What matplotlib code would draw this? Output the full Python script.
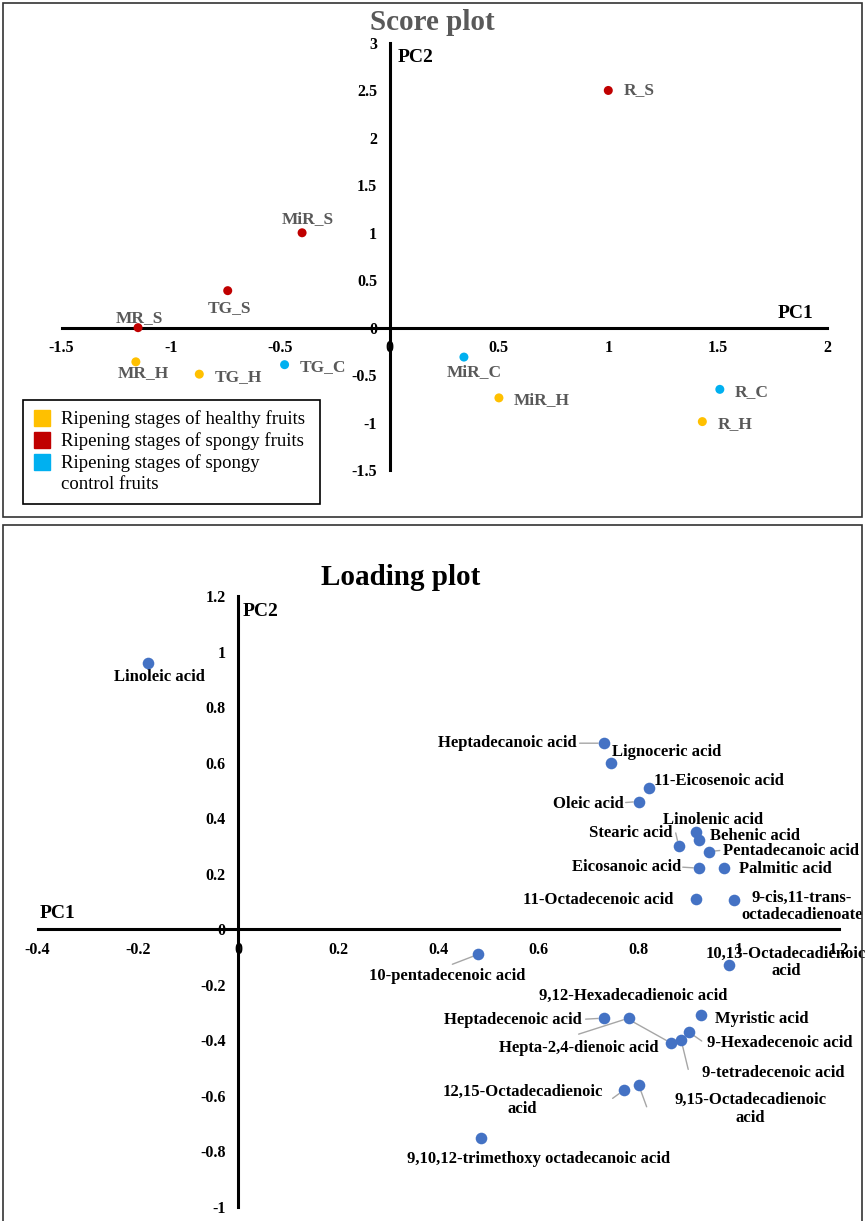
import matplotlib
matplotlib.use("Agg")
import matplotlib.pyplot as plt
from matplotlib.lines import Line2D
from matplotlib.patches import Rectangle
from matplotlib.ticker import FuncFormatter

plt.rcParams['font.family'] = ['Liberation Serif', 'DejaVu Serif']
plt.rcParams['axes.unicode_minus'] = False

# ---- score plot data ----
score_names = ['MR_H', 'TG_H', 'MiR_H', 'R_H',
               'MR_S', 'TG_S', 'MiR_S', 'R_S',
               'TG_C', 'MiR_C', 'R_C']
score_pc1 = [-1.16, -0.87, 0.50, 1.43,
             -1.15, -0.74, -0.40, 1.00,
             -0.48, 0.34, 1.51]
score_pc2 = [-0.36, -0.49, -0.74, -0.99,
             0.00, 0.39, 1.00, 2.50,
             -0.39, -0.31, -0.65]
score_group = ['H', 'H', 'H', 'H', 'S', 'S', 'S', 'S', 'C', 'C', 'C']
group_colors = {'H': '#FFC000', 'S': '#C00000', 'C': '#00B0F0'}
legend_labels = ['Ripening stages of healthy fruits',
                 'Ripening stages of spongy fruits',
                 'Ripening stages of spongy',
                 'control fruits']

# ---- loading plot data ----
acids = ['Linoleic acid', 'Heptadecanoic acid', 'Lignoceric acid', '11-Eicosenoic acid',
         'Oleic acid', 'Linolenic acid', 'Behenic acid', 'Stearic acid',
         'Pentadecanoic acid', 'Eicosanoic acid', 'Palmitic acid', '11-Octadecenoic acid',
         '9-cis,11-trans-\noctadecadienoate', '10-pentadecenoic acid',
         '10,13-Octadecadienoic\nacid', 'Hepta-2,4-dienoic acid', '9,12-Hexadecadienoic acid',
         'Heptadecenoic acid', 'Myristic acid', '9-Hexadecenoic acid', '9-tetradecenoic acid',
         '12,15-Octadecadienoic\nacid', '9,15-Octadecadienoic\nacid',
         '9,10,12-trimethoxy octadecanoic acid']
load_pc1 = [-0.18, 0.73, 0.745, 0.82,
            0.80, 0.915, 0.92, 0.88,
            0.94, 0.92, 0.97, 0.915,
            0.99, 0.48,
            0.98, 0.78, 0.865,
            0.73, 0.925, 0.90, 0.885,
            0.77, 0.80,
            0.485]
load_pc2 = [0.96, 0.67, 0.60, 0.51,
            0.46, 0.35, 0.32, 0.30,
            0.28, 0.22, 0.22, 0.11,
            0.105, -0.09,
            -0.13, -0.32, -0.41,
            -0.32, -0.31, -0.37, -0.40,
            -0.58, -0.56,
            -0.75]

W, H = 865, 1221
fig = plt.figure(figsize=(W / 100, H / 100), dpi=100)


def px_axes(x0, x1, y0, y1):
    return fig.add_axes([x0 / W, 1 - y1 / H, (x1 - x0) / W, (y1 - y0) / H])


def cross_axes(ax, xt, yt):
    ax.patch.set_visible(False)
    for s in ['top', 'right']:
        ax.spines[s].set_visible(False)
    for s in ['left', 'bottom']:
        ax.spines[s].set_position(('data', 0))
        ax.spines[s].set_linewidth(2.2)
    ax.set_xticks(xt)
    ax.set_yticks(yt)
    fmt = FuncFormatter(lambda v, p: f'{v:g}')
    ax.xaxis.set_major_formatter(fmt)
    ax.yaxis.set_major_formatter(fmt)
    ax.tick_params(length=0, labelsize=11.5, pad=9)
    for lab in ax.get_xticklabels() + ax.get_yticklabels():
        lab.set_fontweight('bold')


# panel frames
fig.add_artist(Rectangle((3 / W, 1 - 517 / H), 859 / W, 514 / H, transform=fig.transFigure,
                         fill=False, lw=1.2, ec='#333333'))
fig.add_artist(Rectangle((3 / W, -0.01), 859 / W, 1 - 525 / H + 0.01, transform=fig.transFigure,
                         fill=False, lw=1.2, ec='#333333'))

# ---------------- score plot ----------------
ax1 = px_axes(61.5, 827, 43, 470)
ax1.set_xlim(-1.5, 2)
ax1.set_ylim(-1.5, 3)
cross_axes(ax1, [-1.5, -1, -0.5, 0, 0.5, 1, 1.5, 2], [-1.5, -1, -0.5, 0, 0.5, 1, 1.5, 2, 2.5, 3])

ax1.scatter(score_pc1, score_pc2, c=[group_colors[g] for g in score_group],
            s=42, zorder=5, clip_on=False, linewidths=0)

score_offsets = {  # pixels, (dx, dy up, ha)
    'MR_H': (7, -11, 'center'), 'TG_H': (15, -3, 'left'), 'MiR_H': (15, -2, 'left'),
    'R_H': (15, -2, 'left'), 'MR_S': (1, 10, 'center'), 'TG_S': (2, -17, 'center'),
    'MiR_S': (6, 14, 'center'), 'R_S': (15, 0, 'left'), 'TG_C': (15, -2, 'left'),
    'MiR_C': (10, -15, 'center'), 'R_C': (15, -3, 'left'),
}
for n, x, y in zip(score_names, score_pc1, score_pc2):
    dx, dy, ha = score_offsets[n]
    ax1.annotate(n, (x, y), xytext=(dx, dy), textcoords='offset pixels',
                 ha=ha, va='center', fontsize=12.5, fontweight='bold', color='#595959')

fig.text(432 / W, 1 - 23 / H, 'Score plot', ha='center', va='center',
         fontsize=21, fontweight='bold', color='#595959')
fig.text(398 / W, 1 - 57 / H, 'PC2', ha='left', va='center', fontsize=14, fontweight='bold')
fig.text(813 / W, 1 - 314 / H, 'PC1', ha='right', va='center', fontsize=14, fontweight='bold')

handles = [Line2D([], [], marker='s', ls='', color=group_colors[g], markersize=11)
           for g in ['H', 'S', 'C']]
handles.append(Line2D([], [], marker='s', ls='', color='none', markersize=11))
leg = fig.legend(handles, legend_labels, loc='upper left',
                 bbox_to_anchor=(23 / W, 1 - 503 / H, 297 / W, 103 / H), mode='expand',
                 frameon=True, fancybox=False, edgecolor='black', framealpha=1,
                 fontsize=13.5, handletextpad=0.6, labelspacing=0.22, borderpad=0.55,
                 handlelength=0.9, borderaxespad=0)
leg.get_frame().set_linewidth(1.2)

# ---------------- loading plot ----------------
ax2 = px_axes(37.6, 839, 596, 1207)
ax2.set_xlim(-0.4, 1.2)
ax2.set_ylim(-1, 1.2)
cross_axes(ax2, [-0.4, -0.2, 0, 0.2, 0.4, 0.6, 0.8, 1, 1.2],
           [-1, -0.8, -0.6, -0.4, -0.2, 0, 0.2, 0.4, 0.6, 0.8, 1, 1.2])

ax2.scatter(load_pc1, load_pc2, color='#4472C4', s=70, zorder=5, clip_on=False, linewidths=0)

# label layout: (dx, dy up, ha, leader start offset or None), pixels from the point
load_layout = {
    'Linoleic acid': (12, -14, 'center', None),
    'Heptadecanoic acid': (-27, 0, 'right', (-24, 0)),
    'Lignoceric acid': (1, 11, 'left', None),
    '11-Eicosenoic acid': (5, 7, 'left', None),
    'Oleic acid': (-15, -2, 'right', (-13, -1)),
    'Linolenic acid': (17, 12, 'center', None),
    'Behenic acid': (11, 4, 'left', None),
    'Stearic acid': (-6, 13, 'right', (-3, 13)),
    'Pentadecanoic acid': (14, 1, 'left', (11, 1)),
    'Eicosanoic acid': (-18, 1, 'right', (-16, 1)),
    'Palmitic acid': (15, -1, 'left', None),
    '11-Octadecenoic acid': (-23, -1, 'right', None),
    '9-cis,11-trans-\noctadecadienoate': (68, -6, 'center', None),
    '10-pentadecenoic acid': (-31, -22, 'center', (-26, -10)),
    '10,13-Octadecadienoic\nacid': (57, 3, 'center', None),
    'Hepta-2,4-dienoic acid': (-50, -30, 'center', (-50, -16)),
    '9,12-Hexadecadienoic acid': (-38, 47, 'center', (-43, 24)),
    'Heptadecenoic acid': (-22, -2, 'right', (-18, -1)),
    'Myristic acid': (14, -4, 'left', None),
    '9-Hexadecenoic acid': (18, -11, 'left', (13, -9)),
    '9-tetradecenoic acid': (21, -33, 'left', (7, -29)),
    '12,15-Octadecadienoic\nacid': (-101, -10, 'center', (-11, -8)),
    '9,15-Octadecadienoic\nacid': (112, -24, 'center', (8, -22)),
    '9,10,12-trimethoxy octadecanoic acid': (58, -21, 'center', None),
}
for n, x, y in zip(acids, load_pc1, load_pc2):
    dx, dy, ha, lead = load_layout[n]
    if lead is not None:
        ax2.annotate('', (x, y), xytext=lead, textcoords='offset pixels',
                     arrowprops=dict(arrowstyle='-', color='#A6A6A6', lw=1,
                                     shrinkA=0, shrinkB=4))
    ax2.annotate(n, (x, y), xytext=(dx, dy), textcoords='offset pixels',
                 ha=ha, va='center', multialignment='center',
                 fontsize=12, fontweight='bold', color='black', linespacing=1.12)

fig.text(401 / W, 1 - 577 / H, 'Loading plot', ha='center', va='center',
         fontsize=21, fontweight='bold')
fig.text(243 / W, 1 - 612 / H, 'PC2', ha='left', va='center', fontsize=14, fontweight='bold')
fig.text(40 / W, 1 - 914 / H, 'PC1', ha='left', va='center', fontsize=14, fontweight='bold')

fig.savefig('out.png', dpi=100)
